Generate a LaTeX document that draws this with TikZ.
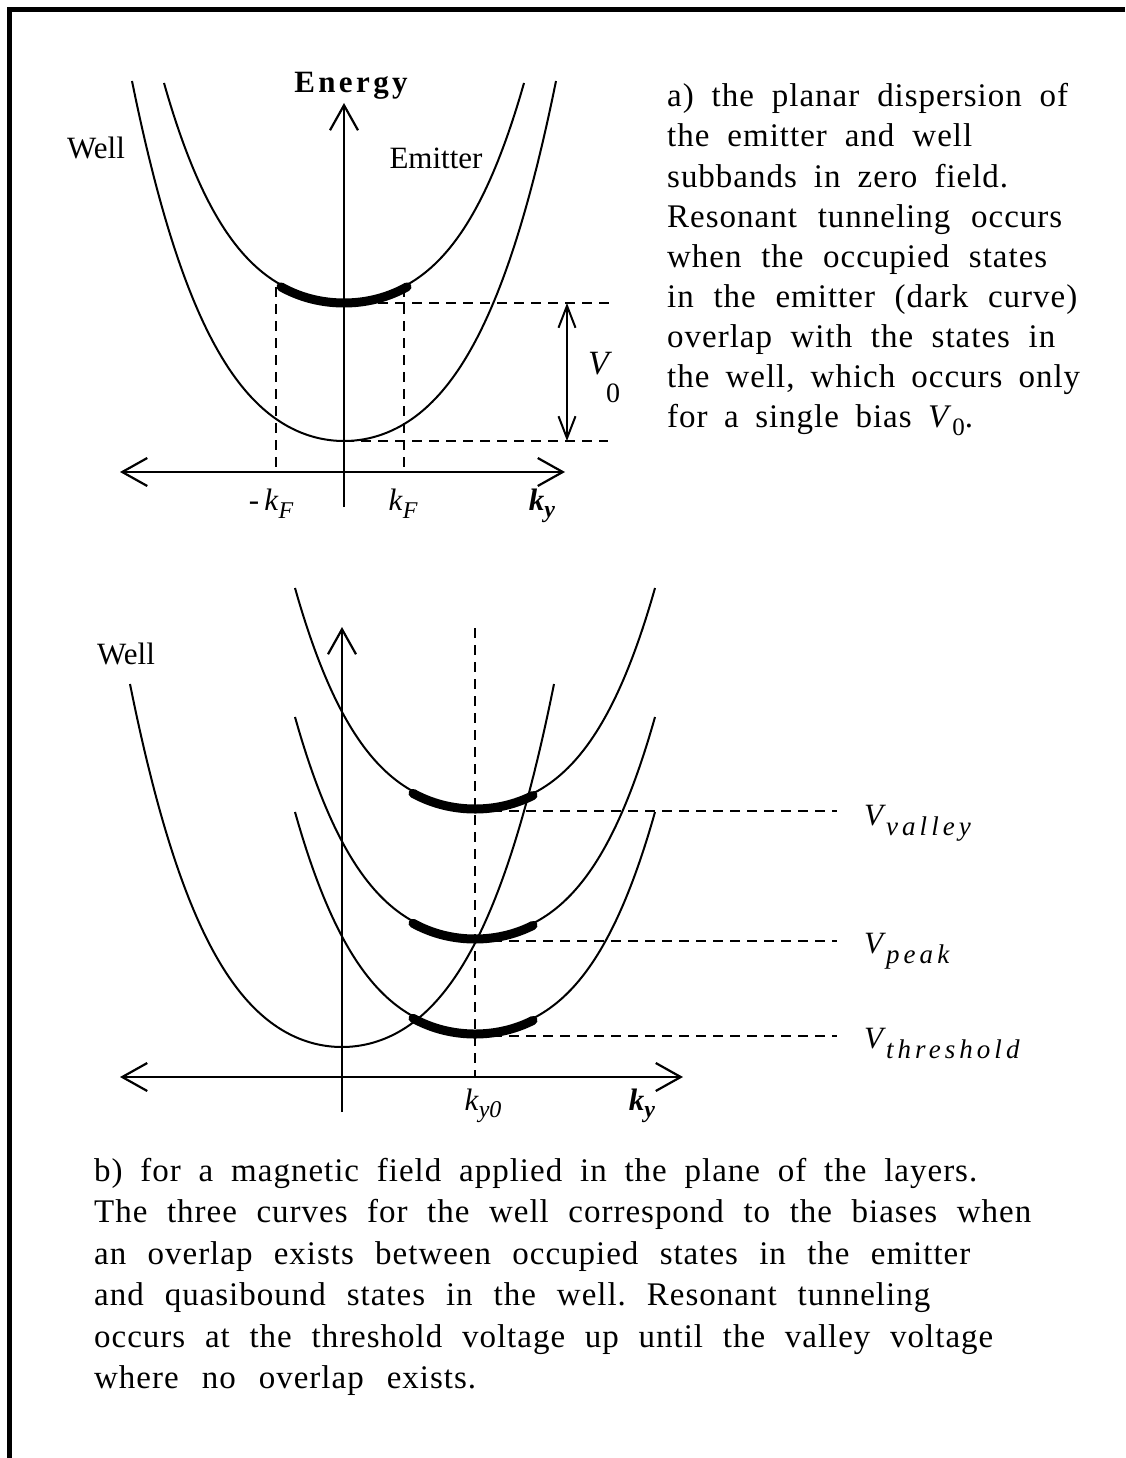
\documentclass[tikz,border=0pt]{standalone}
\usepackage{fontspec}
\setmainfont{Liberation Serif}
\newfontfamily\capfont[LetterSpace=3]{Liberation Serif}
\newfontfamily\subfont[LetterSpace=15]{Liberation Serif}
\newfontfamily\enfont[LetterSpace=11]{Liberation Serif}
\usetikzlibrary{arrows.meta}
\frenchspacing
\newcommand\bandcurve[4]{%
  \draw[curve] plot[domain=-#3:#3, samples=121, smooth, variable=\t]
    ({#1+\t},{#2-#4*(0.55*(\t/#3)*(\t/#3)+0.45*(\t/#3)*(\t/#3)*(\t/#3)*(\t/#3))});}
\newcommand\occband[6]{%
  \draw[occ] plot[domain=#5:#6, samples=41, smooth, variable=\t]
    ({#1+\t},{#2+2-#4*(0.55*(\t/#3)*(\t/#3)+0.45*(\t/#3)*(\t/#3)*(\t/#3)*(\t/#3))});}
\tikzset{
  barb/.tip={Straight Barb[length=25pt,width=28pt]},
  smallbarb/.tip={Straight Barb[length=22pt,width=17pt]}
}
\begin{document}
\begin{tikzpicture}[x=1pt,y=-1pt,
  curve/.style={line width=2pt},
  occ/.style={line width=9pt, line cap=round},
  dashline/.style={line width=2pt, dash pattern=on 10pt off 7pt},
  axis/.style={line width=2.2pt},
  lbl/.style={anchor=base, inner sep=0pt, font=\fontsize{31}{36}\selectfont},
  capline/.style={anchor=base west, inner sep=0pt, font=\capfont\fontsize{33}{38}\selectfont},
  vlbl/.style={anchor=base west, inner sep=0pt, font=\fontsize{31}{36}\selectfont}
]
\useasboundingbox (0,0) rectangle (1125,1458);
% frame
\coordinate (ftl) at (9,10);
\coordinate (ftr) at (1125,10);
\coordinate (fbl) at (9,1458);
\draw[line width=5pt] (ftr) -- (ftl) -- (fbl);

% ================= part a =================
\coordinate (ahl) at (120,472);
\coordinate (ahr) at (565,472);
\coordinate (avb) at (344,507);
\coordinate (avt) at (344,103);
\draw[axis, barb-barb] (ahl) -- (ahr);
\draw[axis, -barb] (avb) -- (avt);

\bandcurve{344}{441}{212}{360}
\bandcurve{344}{301}{180}{218}
\occband{344}{301}{180}{218}{-63}{63}

\coordinate (kfl) at (276,287);
\coordinate (kflb) at (276,472);
\coordinate (kfr) at (404,287);
\coordinate (kfrb) at (404,472);
\draw[dashline] (kfl) -- (kflb);
\draw[dashline] (kfr) -- (kfrb);
\coordinate (eup) at (344,303);
\coordinate (eupr) at (616,303);
\coordinate (wlo) at (344,441);
\coordinate (wlor) at (608,441);
\draw[dashline] (eup) -- (eupr);
\draw[dashline] (wlo) -- (wlor);
\coordinate (v0t) at (567,303);
\coordinate (v0b) at (567,441);
\draw[line width=2pt, smallbarb-smallbarb] (v0t) -- (v0b);

\node[lbl, font=\enfont\bfseries\fontsize{31}{36}\selectfont] (energy) at (351,93) {Energy};
\node[lbl] (wella) at (96,159) {Well};
\node[lbl] (emit) at (436,169) {Emitter};
\node[vlbl, font=\itshape\fontsize{34}{40}\selectfont] (v0) at (588,374) {V};
\node[vlbl, font=\fontsize{28}{34}\selectfont] (v0s) at (606,402) {0};
\node[lbl] (mkf) at (271,510) {-\,\textit{k}\raisebox{-8pt}{\fontsize{24}{28}\selectfont\itshape F}};
\node[lbl] (kf) at (403,510) {\textit{k}\raisebox{-8pt}{\fontsize{24}{28}\selectfont\itshape F}};
\node[lbl] (kya) at (542,510) {\textbf{\textit{k}}\raisebox{-7pt}{\fontsize{24}{28}\selectfont\bfseries\itshape y}};

% caption a
\node[capline] (ca1) at (667,107) {\makebox[401pt][s]{a) the planar dispersion of}};
\node[capline] (ca2) at (667,147) {\makebox[305pt][s]{the emitter and well}};
\node[capline] (ca3) at (667,187) {\makebox[341pt][s]{subbands in zero field.}};
\node[capline] (ca4) at (667,227) {\makebox[395pt][s]{Resonant tunneling occurs}};
\node[capline] (ca5) at (667,267) {\makebox[380pt][s]{when the occupied states}};
\node[capline] (ca6) at (667,307) {\makebox[410pt][s]{in the emitter (dark curve)}};
\node[capline] (ca7) at (667,347) {\makebox[388pt][s]{overlap with the states in}};
\node[capline] (ca8) at (667,387) {\makebox[413pt][s]{the well, which occurs only}};
\node[capline] (ca9) at (667,427) {\makebox[306pt][s]{for a single bias \textit{V}\raisebox{-8pt}{\fontsize{25}{28}\selectfont 0}.}};

% ================= part b =================
\coordinate (bhl) at (120,1077);
\coordinate (bhr) at (683,1077);
\coordinate (bvb) at (342,1112);
\coordinate (bvt) at (342,627);
\draw[axis, barb-barb] (bhl) -- (bhr);
\draw[axis, -barb] (bvb) -- (bvt);

\bandcurve{342}{1047}{212}{363}
\bandcurve{475}{807}{180}{219}
\bandcurve{475}{937}{180}{220}
\bandcurve{475}{1032}{180}{220}
\occband{475}{807}{180}{219}{-62}{58}
\occband{475}{937}{180}{220}{-62}{58}
\occband{475}{1032}{180}{220}{-62}{58}

\coordinate (ky0t) at (475,628);
\coordinate (ky0b) at (475,1077);
\draw[dashline] (ky0t) -- (ky0b);
\coordinate (vvl) at (475,811);
\coordinate (vvr) at (837,811);
\coordinate (vpl) at (475,941);
\coordinate (vpr) at (837,941);
\coordinate (vtl) at (475,1036);
\coordinate (vtr) at (837,1036);
\draw[dashline] (vvl) -- (vvr);
\draw[dashline] (vpl) -- (vpr);
\draw[dashline] (vtl) -- (vtr);

\node[lbl] (wellb) at (126,664) {Well};
\node[lbl] (ky0) at (483,1110) {\textit{k}\raisebox{-7pt}{\fontsize{24}{28}\selectfont\itshape y0}};
\node[lbl] (kyb) at (642,1110) {\textbf{\textit{k}}\raisebox{-7pt}{\fontsize{24}{28}\selectfont\bfseries\itshape y}};
\node[vlbl] (vval) at (864,825) {\textit{V}\raisebox{-10pt}{\subfont\itshape\fontsize{27}{30}\selectfont valley}};
\node[vlbl] (vpeak) at (864,953) {\textit{V}\raisebox{-10pt}{\subfont\itshape\fontsize{27}{30}\selectfont peak}};
\node[vlbl] (vthr) at (864,1048) {\textit{V}\raisebox{-10pt}{\subfont\itshape\fontsize{27}{30}\selectfont threshold}};

% caption b
\node[capline] (cb1) at (94,1181) {\makebox[883pt][s]{b) for a magnetic field applied in the plane of the layers.}};
\node[capline] (cb2) at (94,1222.5) {\makebox[937pt][s]{The three curves for the well correspond to the biases when}};
\node[capline] (cb3) at (94,1264) {\makebox[876pt][s]{an overlap exists between occupied states in the emitter}};
\node[capline] (cb4) at (94,1305.5) {\makebox[836pt][s]{and quasibound states in the well. Resonant tunneling}};
\node[capline] (cb5) at (94,1347) {\makebox[899pt][s]{occurs at the threshold voltage up until the valley voltage}};
\node[capline] (cb6) at (94,1388.5) {\makebox[382pt][s]{where no overlap exists.}};
\end{tikzpicture}
\end{document}
